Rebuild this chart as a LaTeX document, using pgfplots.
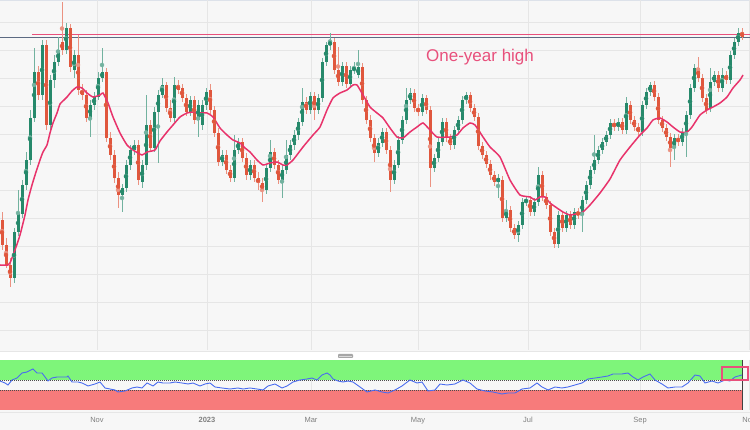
\documentclass[border=0pt]{standalone}
\usepackage{pgfplots}
\pgfplotsset{compat=1.18}
\usepackage{pgfplotstable}
\usepackage{fontspec}
\setmainfont{Liberation Sans}
\setsansfont{Liberation Sans}
\definecolor{bgc}{HTML}{F7F7F7}
\definecolor{gridc}{HTML}{E6E6E6}
\definecolor{upc}{HTML}{26896B}
\definecolor{dnc}{HTML}{E0573D}
\definecolor{mac}{HTML}{E8336B}
\definecolor{hic}{HTML}{E8507C}
\definecolor{slate}{HTML}{5C6A82}
\definecolor{bandg}{HTML}{7EF57A}
\definecolor{bandr}{HTML}{F77B7B}
\definecolor{rsic}{HTML}{4A6CF0}
\definecolor{tickc}{HTML}{808080}
\definecolor{borderc}{HTML}{DDE2EA}

% candles in chart pixel units (y grows downward): x open high low close
\pgfplotstableread{
x o h l c
2 220 212 250 245
6 245 238 268 265
10 265 258 287 278
14 278 228 283 232
18 232 190 236 214
22 214 180 218 185
26 185 152 190 160
30 160 110 165 118
34 118 48 122 72
38 72 66 100 95
42 95 40 100 45
46 45 40 130 125
50 125 75 132 80
54 80 55 88 62
58 62 37 66 50
62 42 2 55 50
66 50 23 54 28
70 28 24 72 67
74 70 50 78 55
78 55 35 95 90
82 90 84 100 95
86 95 90 122 118
90 118 100 137 105
94 105 92 110 97
98 97 72 100 78
102 78 48 82 72
106 72 68 142 138
110 138 132 160 155
114 155 150 183 178
118 178 172 208 195
122 195 184 212 188
126 188 160 192 165
130 165 145 170 150
134 150 140 155 145
138 145 140 185 180
142 182 160 188 165
146 165 95 170 125
150 125 120 152 148
154 148 107 152 112
158 112 90 163 95
162 95 78 98 85
166 85 82 112 108
170 108 100 122 118
174 118 77 122 85
178 85 80 94 90
182 88 84 102 98
186 98 94 116 112
190 112 96 116 100
194 100 96 124 120
198 120 100 137 105
202 125 100 130 105
206 105 88 110 92
210 90 84 114 110
214 110 106 137 133
218 133 128 166 162
222 162 150 166 155
226 155 150 174 170
230 170 165 182 178
234 178 135 182 150
238 150 138 154 142
242 142 138 162 158
246 158 153 180 175
250 175 160 180 165
254 165 160 182 178
258 178 172 190 183
262 183 178 202 190
266 190 164 194 168
270 168 140 172 152
274 152 148 169 165
278 165 160 184 180
282 180 165 198 170
286 170 140 174 155
290 155 140 160 145
294 145 130 150 135
298 135 118 140 122
302 122 88 126 102
306 102 97 114 110
310 110 92 114 96
314 96 92 120 110
318 110 94 114 98
322 98 58 102 62
326 62 42 66 45
330 45 33 50 42
334 42 38 74 70
338 70 47 86 82
342 82 62 86 66
346 66 62 88 84
350 84 66 88 70
354 70 62 74 68
358 75 50 78 67
362 67 63 104 100
366 100 96 124 120
370 120 115 142 138
374 138 134 162 153
378 153 138 157 143
382 143 128 147 132
386 132 128 154 150
390 150 146 192 180
394 180 160 184 165
398 165 136 168 140
402 140 116 144 120
406 120 88 124 100
410 100 88 104 93
414 93 89 112 108
418 108 104 116 112
422 112 94 116 98
426 98 95 114 110
430 110 106 187 168
434 168 154 172 158
438 158 138 162 142
442 142 118 146 122
446 122 118 142 138
450 138 134 150 145
454 145 126 149 130
458 130 116 134 120
462 120 96 124 100
466 100 92 104 95
470 95 92 112 108
474 108 104 121 117
478 117 113 150 146
482 146 142 159 155
486 155 151 168 164
490 164 160 180 175
494 175 171 186 182
498 182 174 198 178
502 180 176 222 218
506 218 200 222 210
510 210 206 232 228
514 228 224 239 235
518 235 221 242 225
522 225 198 229 202
526 202 196 206 200
530 200 196 216 212
534 212 198 216 202
538 202 167 206 175
542 175 171 201 197
546 197 193 209 205
550 205 201 236 232
554 232 228 248 244
558 244 211 248 215
562 215 211 232 228
566 228 211 232 215
570 215 211 229 225
574 225 208 229 212
578 212 208 219 215
582 215 196 232 200
586 200 181 204 185
590 185 166 189 170
594 170 135 174 160
598 160 146 164 150
602 150 138 154 142
606 142 131 146 135
610 135 119 139 123
614 123 119 131 127
618 127 118 131 122
622 122 118 134 130
626 130 97 134 103
630 105 101 124 120
634 120 116 131 127
638 127 123 136 132
642 132 101 136 105
646 105 88 109 92
650 92 82 96 85
654 85 81 101 97
658 97 93 124 120
662 120 116 132 128
666 128 124 141 137
670 137 133 167 148
674 148 134 160 138
678 138 134 146 142
682 142 128 146 132
686 132 111 157 115
690 115 84 119 88
694 88 64 92 68
698 68 57 82 78
702 78 74 102 98
706 98 94 114 110
710 108 68 112 82
714 82 71 86 75
718 75 71 92 88
722 88 68 92 75
726 75 71 84 80
730 80 51 84 55
734 55 38 59 42
738 42 28 46 33
742 32 28 40 37
}\candles

\pgfplotstableread{
x y
0 265
8 265
10 263
15 250
20 235
25 215
28 200
32 185
36 172
40 160
43 152
47 145
50 133
53 123
57 113
60 104
64 100
67 97
72 91
77 87
82 88
87 93
93 97
100 95
103 93
108 103
113 117
120 133
127 145
133 150
142 155
147 152
155 150
160 141
167 132
173 125
180 117
187 113
193 112
200 113
207 113
213 117
220 128
227 135
233 140
240 143
245 148
250 152
257 160
263 165
270 163
277 162
283 165
287 165
293 160
303 147
313 135
320 127
327 110
333 98
340 93
347 90
353 85
357 85
363 95
370 107
377 113
383 118
390 128
397 137
403 138
410 132
417 127
423 123
430 130
437 137
450 137
457 135
463 128
470 123
475 125
483 137
490 147
500 157
510 180
520 195
530 197
535 200
540 197
545 197
550 203
557 208
563 212
570 215
580 213
583 212
590 205
600 193
610 179
620 160
630 147
640 135
647 128
653 120
660 118
667 122
673 127
680 132
687 132
692 127
700 115
707 110
713 107
720 103
727 97
733 88
740 80
743 75
}\ma

\pgfplotstableread{
x y
0 381
5 383
8 385
12 380
17 378
22 373
27 372
33 369
37 373
42 373
45 377
48 381
52 378
57 377
62 377
67 377
68 376
72 382
78 382
82 383
88 386
95 384
100 382
105 388
115 390
118 392
125 391
132 388
137 387
142 388
147 383
153 386
158 382
163 383
170 383
175 382
182 383
188 384
193 383
200 386
205 384
210 383
215 387
222 388
230 389
238 388
243 389
250 388
257 389
263 390
268 386
275 384
282 388
287 386
293 382
300 380
307 379
312 378
317 380
322 375
327 373
330 375
333 379
338 381
343 382
348 381
353 382
360 387
367 392
375 390
382 392
388 393
395 390
402 386
410 380
417 383
422 382
428 391
435 390
440 384
447 385
455 384
463 380
470 383
477 389
485 391
493 392
502 394
508 393
515 393
522 389
530 388
537 383
542 387
548 390
555 387
562 388
568 387
575 385
582 383
588 379
595 378
602 377
608 376
613 374
622 374
628 373
633 377
638 380
643 377
650 374
655 380
662 384
668 388
675 387
682 387
688 383
695 375
700 376
705 383
712 381
718 383
725 380
730 381
735 377
742 375
}\rsi

\begin{document}
\begin{tikzpicture}
\fill[bgc] (0pt,0pt) rectangle (750pt,430pt);
\path[use as bounding box] (0pt,0pt) rectangle (750pt,430pt);
% separator band between panels
\fill[white] (0pt,70pt) rectangle (750pt,78.5pt);
\draw[gridc, line width=0.8pt] (0pt,78.5pt) -- (750pt,78.5pt);
\draw[gridc, line width=0.8pt] (0pt,18pt) -- (750pt,18pt);
% top border
\draw[borderc, line width=1.5pt] (0pt,429.3pt) -- (750pt,429.3pt);

\begin{axis}[
  at={(0pt,80pt)}, anchor=south west, scale only axis,
  width=750pt, height=350pt,
  xmin=0, xmax=750, ymin=0, ymax=350, y dir=reverse,
  axis line style={draw=none}, tick style={draw=none},
  xtick={97,207,311,418,528,640,749},
  ytick={23,51,79,107,135,163,191,219,247,275,303,331},
  xticklabels={}, yticklabels={},
  grid=major, major grid style={draw=gridc, line width=1pt},
]
% one-year high lines
\addplot[slate, line width=1pt, forget plot] coordinates {(0,37.5) (750,37.5)};
\addplot[hic, line width=1.8pt, forget plot] coordinates {(32,34.5) (750,34.5)};
% wicks
\addplot[upc!65!white, only marks, mark=none, forget plot,
  error bars/.cd, y dir=both, y explicit, error mark=none,
  error bar style={draw=upc!65!white, line width=1pt}]
  table[x=x, y expr={\thisrow{c}<\thisrow{o} ? (\thisrow{h}+\thisrow{l})/2 : nan},
        y error expr={(\thisrow{l}-\thisrow{h})/2}] {\candles};
\addplot[dnc!65!white, only marks, mark=none, forget plot,
  error bars/.cd, y dir=both, y explicit, error mark=none,
  error bar style={draw=dnc!65!white, line width=1pt}]
  table[x=x, y expr={\thisrow{c}<\thisrow{o} ? nan : (\thisrow{h}+\thisrow{l})/2},
        y error expr={(\thisrow{l}-\thisrow{h})/2}] {\candles};
% bodies
\addplot[upc, only marks, mark=none, forget plot,
  error bars/.cd, y dir=both, y explicit, error mark=none,
  error bar style={draw=upc, line width=3pt}]
  table[x=x, y expr={\thisrow{c}<\thisrow{o} ? (\thisrow{o}+\thisrow{c})/2 : nan},
        y error expr={max(abs(\thisrow{o}-\thisrow{c})/2,0.7)}] {\candles};
\addplot[dnc, only marks, mark=none, forget plot,
  error bars/.cd, y dir=both, y explicit, error mark=none,
  error bar style={draw=dnc, line width=3pt}]
  table[x=x, y expr={\thisrow{c}<\thisrow{o} ? nan : (\thisrow{o}+\thisrow{c})/2},
        y error expr={max(abs(\thisrow{o}-\thisrow{c})/2,0.7)}] {\candles};
% moving average
\addplot[mac, line width=1.5pt, smooth, tension=0.3, mark=none] table[x=x,y=y] {\ma};
\node[anchor=west, text=hic, font=\fontsize{17}{20}\selectfont, inner sep=0pt]
  at (axis cs:426,57) {One-year high};
\end{axis}

\begin{axis}[
  at={(0pt,20pt)}, anchor=south west, scale only axis,
  width=750pt, height=50pt,
  xmin=0, xmax=750, ymin=360, ymax=410, y dir=reverse,
  axis line style={draw=none}, tick style={draw=none},
  xtick={97,207,311,418,528,640,749},
  xticklabels={Nov,\textbf{2023},Mar,May,Jul,Sep,Nov},
  ytick=\empty,
  xmajorgrids, major grid style={draw=gridc, line width=1pt},
  xticklabel style={font=\fontsize{7.5}{9}\selectfont, text=tickc, anchor=base, yshift=-12.7pt},
]
\addplot[fill=bandg, draw=none, forget plot] coordinates {(0,360) (742,360) (742,380) (0,380)} -- cycle;
\addplot[fill=bandr, draw=none, forget plot] coordinates {(0,390) (742,390) (742,410) (0,410)} -- cycle;
\addplot[black!70, line width=0.6pt, dash pattern=on 1pt off 1pt, forget plot] coordinates {(0,380) (742,380)};
\addplot[black!70, line width=0.6pt, dash pattern=on 1pt off 1pt, forget plot] coordinates {(0,390) (742,390)};
\addplot[black!45, line width=0.7pt, forget plot] coordinates {(0,410) (742,410)};
\addplot[black!75, line width=1pt, forget plot] coordinates {(742,360) (742,410)};
\addplot[rsic, line width=0.9pt, mark=none, forget plot] table[x=x,y=y] {\rsi};
\addplot[hic, line width=1.5pt, forget plot] coordinates {(722,367) (748,367) (748,380) (722,380)} -- cycle;
\end{axis}
% pane resize handle
\fill[black!35, rounded corners=0.8pt] (338pt,72pt) rectangle (353pt,76pt);
\draw[black!15, line width=0.4pt] (339pt,74pt) -- (352pt,74pt);
\end{tikzpicture}
\end{document}
